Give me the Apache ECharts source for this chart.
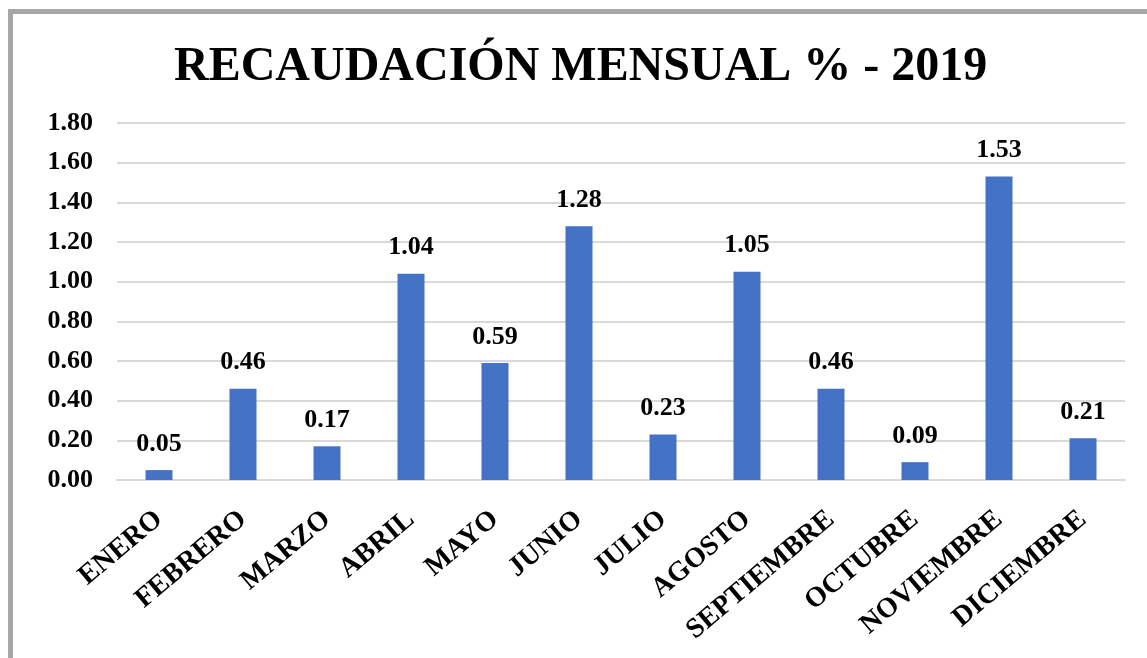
<!DOCTYPE html>
<html>
<head>
<meta charset="utf-8">
<script src="https://cdn.jsdelivr.net/npm/echarts@6/dist/echarts.min.js"></script>
<style>
html,body{margin:0;padding:0;background:#fff;}
#chart{width:1147px;height:658px;}
</style>
</head>
<body>
<div id="chart"></div>
<script>
const titleText = 'RECAUDACIÓN MENSUAL % - 2019';
const categories = ['ENERO','FEBRERO','MARZO','ABRIL','MAYO','JUNIO','JULIO','AGOSTO','SEPTIEMBRE','OCTUBRE','NOVIEMBRE','DICIEMBRE'];
const values = [0.05,0.46,0.17,1.04,0.59,1.28,0.23,1.05,0.46,0.09,1.53,0.21];
const yTicks = {min:0, max:1.8, interval:0.2};

const serif = '"Liberation Serif","Times New Roman",serif';
const chart = echarts.init(document.getElementById('chart'));
chart.setOption({
  backgroundColor:'#fff',
  animation:false,
  graphic:[
    {type:'rect', shape:{x:8,y:9,width:1139,height:5}, style:{fill:'#a6a6a6'}},
    {type:'rect', shape:{x:8,y:9,width:5,height:649}, style:{fill:'#a6a6a6'}}
  ],
  title:{
    text:titleText, left:169, top:39,
    textStyle:{fontFamily:serif, fontWeight:'bold', fontSize:48, color:'#000'}
  },
  grid:{left:117, right:22, top:123, bottom:178, containLabel:false},
  xAxis:{
    type:'category', data:categories,
    axisLine:{lineStyle:{color:'#d9d9d9', width:2}},
    axisTick:{show:false},
    axisLabel:{rotate:40, interval:0, margin:36, color:'#000', fontFamily:serif, fontWeight:'bold', fontSize:28}
  },
  yAxis:{
    type:'value', min:yTicks.min, max:yTicks.max, interval:yTicks.interval,
    axisLine:{show:false}, axisTick:{show:false},
    splitLine:{lineStyle:{color:'#d9d9d9', width:2}},
    axisLabel:{formatter:v=>v.toFixed(2), margin:24, color:'#000', fontFamily:serif, fontWeight:'bold', fontSize:26}
  },
  series:[{
    type:'bar', data:values, barWidth:27,
    itemStyle:{color:'#4472c4'},
    label:{show:true, position:'top', distance:13, formatter:p=>p.value.toFixed(2), color:'#000', fontFamily:serif, fontWeight:'bold', fontSize:26}
  }]
});
</script>
</body>
</html>
